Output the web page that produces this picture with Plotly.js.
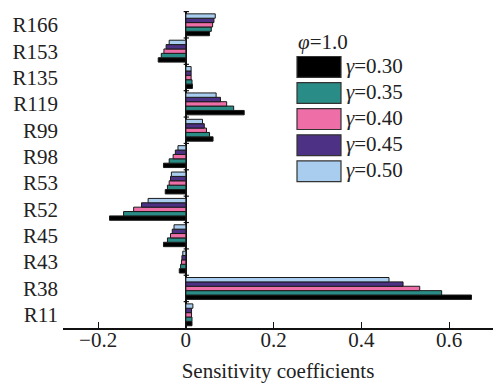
<!DOCTYPE html>
<html>
<head>
<meta charset="utf-8">
<script src="https://cdn.plot.ly/plotly-3.0.1.min.js"></script>
<style>
  html, body { margin: 0; padding: 0; background: #fff; }
  #chart { width: 493px; height: 383px; }
</style>
</head>
<body>
<div id="chart"></div>
<script>
// Reactions, listed bottom to top
const categories = ['R11', 'R38', 'R43', 'R45', 'R52', 'R53', 'R98', 'R99', 'R119', 'R135', 'R153', 'R166'];

// Sensitivity coefficients for each gamma (phi = 1.0)
const gamma030 = [0.014, 0.651, -0.015, -0.051, -0.174, -0.047, -0.051, 0.062, 0.133, 0.015, -0.063, 0.054];
const gamma035 = [0.014, 0.583, -0.012, -0.042, -0.142, -0.042, -0.038, 0.054, 0.109, 0.014, -0.056, 0.058];
const gamma040 = [0.013, 0.533, -0.010, -0.035, -0.119, -0.038, -0.029, 0.047, 0.093, 0.012, -0.050, 0.061];
const gamma045 = [0.013, 0.495, -0.009, -0.031, -0.101, -0.035, -0.024, 0.042, 0.079, 0.012, -0.045, 0.064];
const gamma050 = [0.016, 0.463, -0.007, -0.027, -0.086, -0.033, -0.018, 0.038, 0.069, 0.012, -0.038, 0.067];

const seriesNames = ['γ=0.30', 'γ=0.35', 'γ=0.40', 'γ=0.45', 'γ=0.50'];
const seriesValues = [gamma030, gamma035, gamma040, gamma045, gamma050];
const seriesColors = ['#000000', '#2a8c86', '#ee6ea8', '#4d3185', '#a9cdee'];
const legendTitle = '<i>φ</i>=1.0';

const FONT = '"Liberation Serif", "Times New Roman", serif';
const W = 493, H = 383;
const M = { l: 63, r: 0, t: 11, b: 55 };
const plotW = W - M.l - M.r, plotH = H - M.t - M.b;
const px2x = px => (px - M.l) / plotW;
const px2y = py => (H - M.b - py) / plotH;

const traces = seriesValues.map((vals, i) => ({
  type: 'bar',
  orientation: 'h',
  name: seriesNames[i],
  y: categories,
  x: vals,
  marker: { color: seriesColors[i], line: { color: '#1a1a1a', width: 1 } },
  showlegend: false,
  hoverinfo: 'x+y'
}));

const shapes = [];
const annotations = [];

// small ticks on the zero line at every category boundary
for (let i = 1; i <= categories.length; i++) {
  shapes.push({
    type: 'line', xref: 'x', yref: 'y',
    x0: -0.005, x1: 0.007, y0: i - 0.5, y1: i - 0.5,
    line: { color: '#111', width: 1.2 }
  });
}

// legend: title plus a large swatch for every series
const legX0 = 297, legW = 44, legTop = 56.5, legPitch = 26.1, legH = 20.8;
annotations.push({
  xref: 'paper', yref: 'paper', x: px2x(legX0 - 1), y: px2y(42),
  xanchor: 'left', yanchor: 'middle', showarrow: false,
  text: legendTitle, font: { family: FONT, size: 21, color: '#222' }
});
seriesNames.forEach((name, i) => {
  const top = legTop + i * legPitch;
  shapes.push({
    type: 'rect', xref: 'paper', yref: 'paper',
    x0: px2x(legX0), x1: px2x(legX0 + legW),
    y0: px2y(top + legH), y1: px2y(top),
    fillcolor: seriesColors[i], line: { color: '#333', width: 1.2 }
  });
  annotations.push({
    xref: 'paper', yref: 'paper', x: px2x(legX0 + legW + 3), y: px2y(top + legH / 2 - 1),
    xanchor: 'left', yanchor: 'middle', showarrow: false,
    text: '<i>γ</i>=' + name.split('=')[1],
    font: { family: FONT, size: 21, color: '#222' }
  });
});

const layout = {
  width: W, height: H,
  margin: M,
  paper_bgcolor: '#fff', plot_bgcolor: '#fff',
  font: { family: FONT, size: 21, color: '#222' },
  barmode: 'group', bargap: 0.17, bargroupgap: 0,
  showlegend: false,
  xaxis: {
    range: [-0.28, 0.70],
    tick0: 0, dtick: 0.2,
    ticks: 'inside', ticklen: 6, tickwidth: 1.2, tickcolor: '#111',
    showline: true, linecolor: '#111', linewidth: 1.5,
    showgrid: false,
    zeroline: true, zerolinecolor: '#111', zerolinewidth: 1.5,
    tickfont: { family: FONT, size: 21, color: '#222' },
    ticklabelstandoff: -8,
    title: { text: 'Sensitivity coefficients', standoff: 22, font: { family: FONT, size: 21, color: '#222' } },
    automargin: false
  },
  yaxis: {
    type: 'category',
    categoryorder: 'array', categoryarray: categories,
    showline: false, ticks: '', showgrid: false, zeroline: false,
    tickfont: { family: FONT, size: 21, color: '#222' },
    ticklabelstandoff: 4,
    automargin: false
  },
  shapes: shapes,
  annotations: annotations
};

Plotly.newPlot('chart', traces, layout, { displayModeBar: false, staticPlot: true });
</script>
</body>
</html>
